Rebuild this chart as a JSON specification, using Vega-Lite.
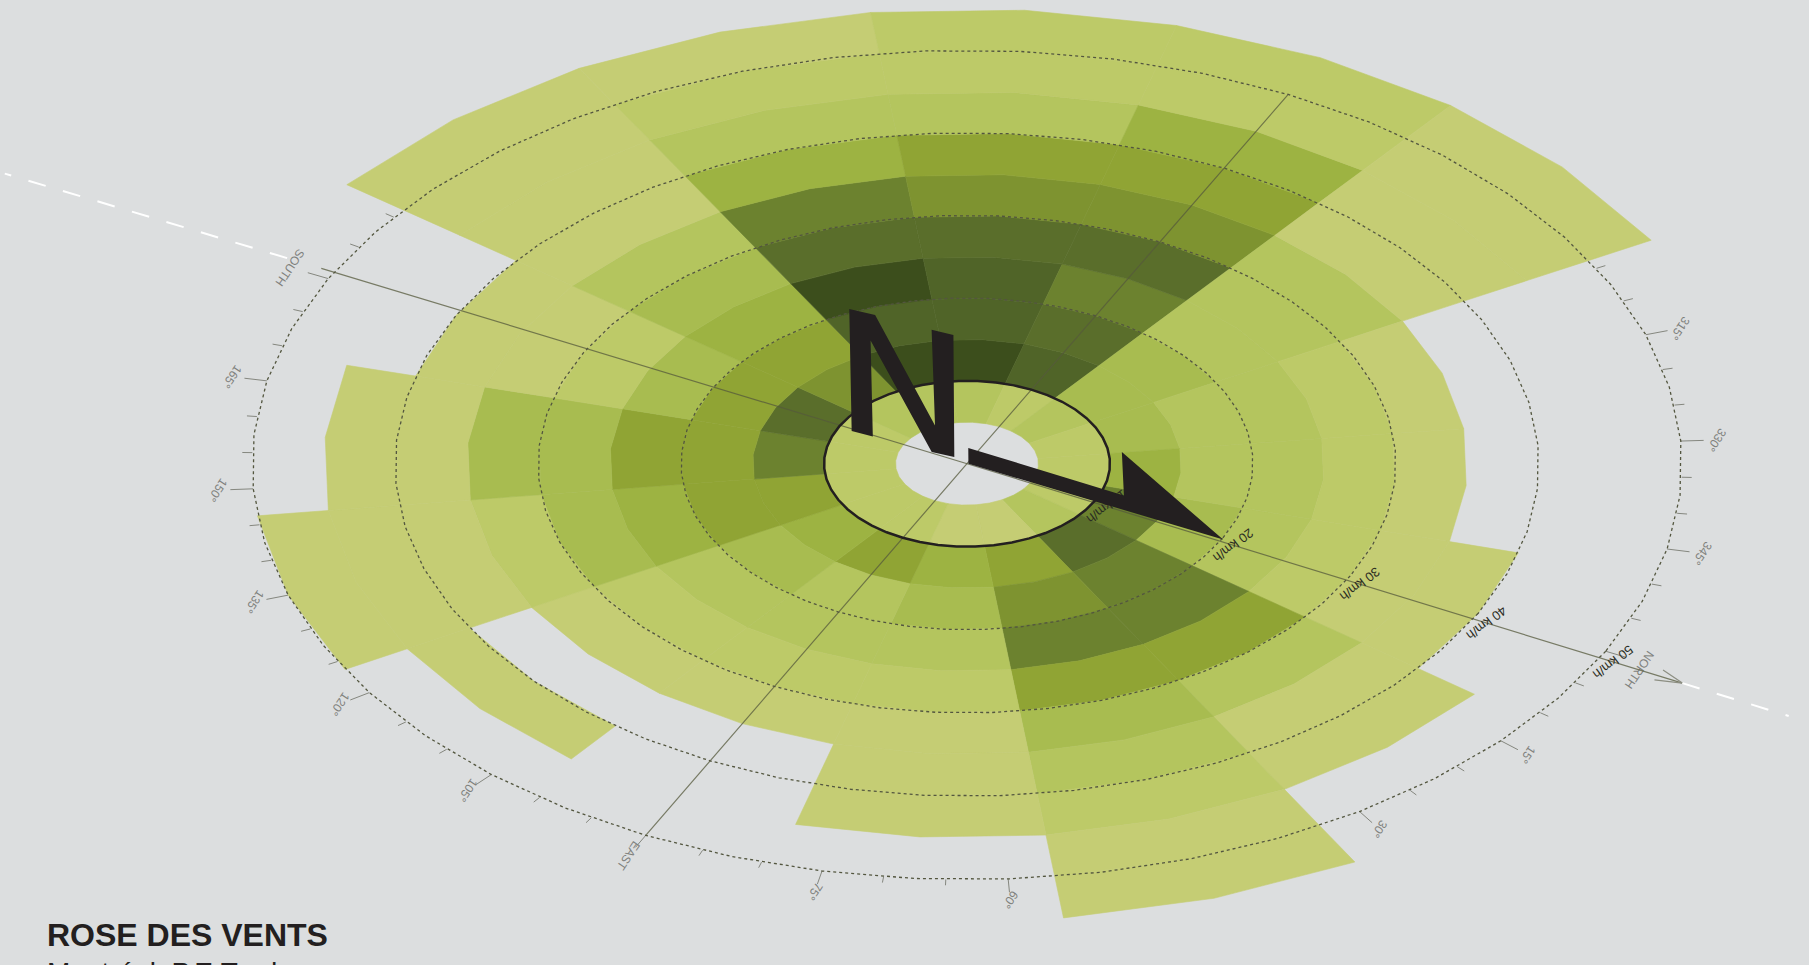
{"$schema":"https://vega.github.io/schema/vega-lite/v6.json","width":1809,"height":965,"padding":0,"autosize":{"type":"none"},"background":"#DCDEDF","config":{"view":{"stroke":null},"font":"Liberation Sans"},
"title":{"text":"ROSE DES VENTS","subtitle":"Montréal, P.E.Trudeau","anchor":"start","frame":"group","orient":"top","dx":47,"dy":993,"font":"Liberation Sans","fontSize":32,"fontWeight":"bold","color":"#231F20","subtitleFont":"Liberation Sans","subtitleFontSize":28,"subtitleColor":"#231F20","subtitlePadding":7},
"projection":{"type":"orthographic","rotate":[63.3,-35.45,0],"scale":163866,"translate":[967,133952.5]},
"layer":[
{"data":{"values":[
{"type":"Feature","properties":{"deg":0},"geometry":{"type":"LineString","coordinates":[[0,89.75],[0,89.742]]}},
{"type":"Feature","properties":{"deg":5},"geometry":{"type":"LineString","coordinates":[[-5,89.75],[-5,89.7465]]}},
{"type":"Feature","properties":{"deg":10},"geometry":{"type":"LineString","coordinates":[[-10,89.75],[-10,89.7465]]}},
{"type":"Feature","properties":{"deg":15},"geometry":{"type":"LineString","coordinates":[[-15,89.75],[-15,89.742]]}},
{"type":"Feature","properties":{"deg":20},"geometry":{"type":"LineString","coordinates":[[-20,89.75],[-20,89.7465]]}},
{"type":"Feature","properties":{"deg":25},"geometry":{"type":"LineString","coordinates":[[-25,89.75],[-25,89.7465]]}},
{"type":"Feature","properties":{"deg":30},"geometry":{"type":"LineString","coordinates":[[-30,89.75],[-30,89.742]]}},
{"type":"Feature","properties":{"deg":60},"geometry":{"type":"LineString","coordinates":[[-60,89.75],[-60,89.742]]}},
{"type":"Feature","properties":{"deg":65},"geometry":{"type":"LineString","coordinates":[[-65,89.75],[-65,89.7465]]}},
{"type":"Feature","properties":{"deg":70},"geometry":{"type":"LineString","coordinates":[[-70,89.75],[-70,89.7465]]}},
{"type":"Feature","properties":{"deg":75},"geometry":{"type":"LineString","coordinates":[[-75,89.75],[-75,89.742]]}},
{"type":"Feature","properties":{"deg":80},"geometry":{"type":"LineString","coordinates":[[-80,89.75],[-80,89.7465]]}},
{"type":"Feature","properties":{"deg":85},"geometry":{"type":"LineString","coordinates":[[-85,89.75],[-85,89.7465]]}},
{"type":"Feature","properties":{"deg":90},"geometry":{"type":"LineString","coordinates":[[-90,89.75],[-90,89.742]]}},
{"type":"Feature","properties":{"deg":95},"geometry":{"type":"LineString","coordinates":[[-95,89.75],[-95,89.7465]]}},
{"type":"Feature","properties":{"deg":100},"geometry":{"type":"LineString","coordinates":[[-100,89.75],[-100,89.7465]]}},
{"type":"Feature","properties":{"deg":105},"geometry":{"type":"LineString","coordinates":[[-105,89.75],[-105,89.742]]}},
{"type":"Feature","properties":{"deg":110},"geometry":{"type":"LineString","coordinates":[[-110,89.75],[-110,89.7465]]}},
{"type":"Feature","properties":{"deg":115},"geometry":{"type":"LineString","coordinates":[[-115,89.75],[-115,89.7465]]}},
{"type":"Feature","properties":{"deg":120},"geometry":{"type":"LineString","coordinates":[[-120,89.75],[-120,89.742]]}},
{"type":"Feature","properties":{"deg":125},"geometry":{"type":"LineString","coordinates":[[-125,89.75],[-125,89.7465]]}},
{"type":"Feature","properties":{"deg":130},"geometry":{"type":"LineString","coordinates":[[-130,89.75],[-130,89.7465]]}},
{"type":"Feature","properties":{"deg":135},"geometry":{"type":"LineString","coordinates":[[-135,89.75],[-135,89.742]]}},
{"type":"Feature","properties":{"deg":140},"geometry":{"type":"LineString","coordinates":[[-140,89.75],[-140,89.7465]]}},
{"type":"Feature","properties":{"deg":145},"geometry":{"type":"LineString","coordinates":[[-145,89.75],[-145,89.7465]]}},
{"type":"Feature","properties":{"deg":150},"geometry":{"type":"LineString","coordinates":[[-150,89.75],[-150,89.742]]}},
{"type":"Feature","properties":{"deg":155},"geometry":{"type":"LineString","coordinates":[[-155,89.75],[-155,89.7465]]}},
{"type":"Feature","properties":{"deg":160},"geometry":{"type":"LineString","coordinates":[[-160,89.75],[-160,89.7465]]}},
{"type":"Feature","properties":{"deg":165},"geometry":{"type":"LineString","coordinates":[[-165,89.75],[-165,89.742]]}},
{"type":"Feature","properties":{"deg":170},"geometry":{"type":"LineString","coordinates":[[-170,89.75],[-170,89.7465]]}},
{"type":"Feature","properties":{"deg":175},"geometry":{"type":"LineString","coordinates":[[-175,89.75],[-175,89.7465]]}},
{"type":"Feature","properties":{"deg":180},"geometry":{"type":"LineString","coordinates":[[-180,89.75],[-180,89.742]]}},
{"type":"Feature","properties":{"deg":185},"geometry":{"type":"LineString","coordinates":[[-185,89.75],[-185,89.7465]]}},
{"type":"Feature","properties":{"deg":190},"geometry":{"type":"LineString","coordinates":[[-190,89.75],[-190,89.7465]]}},
{"type":"Feature","properties":{"deg":305},"geometry":{"type":"LineString","coordinates":[[-305,89.75],[-305,89.7465]]}},
{"type":"Feature","properties":{"deg":310},"geometry":{"type":"LineString","coordinates":[[-310,89.75],[-310,89.7465]]}},
{"type":"Feature","properties":{"deg":315},"geometry":{"type":"LineString","coordinates":[[-315,89.75],[-315,89.742]]}},
{"type":"Feature","properties":{"deg":320},"geometry":{"type":"LineString","coordinates":[[-320,89.75],[-320,89.7465]]}},
{"type":"Feature","properties":{"deg":325},"geometry":{"type":"LineString","coordinates":[[-325,89.75],[-325,89.7465]]}},
{"type":"Feature","properties":{"deg":330},"geometry":{"type":"LineString","coordinates":[[-330,89.75],[-330,89.742]]}},
{"type":"Feature","properties":{"deg":335},"geometry":{"type":"LineString","coordinates":[[-335,89.75],[-335,89.7465]]}},
{"type":"Feature","properties":{"deg":340},"geometry":{"type":"LineString","coordinates":[[-340,89.75],[-340,89.7465]]}},
{"type":"Feature","properties":{"deg":345},"geometry":{"type":"LineString","coordinates":[[-345,89.75],[-345,89.742]]}},
{"type":"Feature","properties":{"deg":350},"geometry":{"type":"LineString","coordinates":[[-350,89.75],[-350,89.7465]]}},
{"type":"Feature","properties":{"deg":355},"geometry":{"type":"LineString","coordinates":[[-355,89.75],[-355,89.7465]]}}
]},"mark":{"type":"geoshape","filled":false,"stroke":"#85877f","strokeWidth":1}},
{"data":{"values":[
{"label":"15°","lon":-15,"lat":89.7375},{"label":"30°","lon":-30,"lat":89.7375},{"label":"60°","lon":-60,"lat":89.7375},{"label":"75°","lon":-75,"lat":89.7375},{"label":"EAST","lon":-90,"lat":89.7365},{"label":"105°","lon":-105,"lat":89.7375},{"label":"120°","lon":-120,"lat":89.7375},{"label":"135°","lon":-135,"lat":89.7375},{"label":"150°","lon":-150,"lat":89.7375},{"label":"165°","lon":-165,"lat":89.7375},{"label":"SOUTH","lon":-180,"lat":89.735},{"label":"315°","lon":-315,"lat":89.7375},{"label":"330°","lon":-330,"lat":89.7375},{"label":"345°","lon":-345,"lat":89.7375},{"label":"NORTH","lon":-1,"lat":89.7345}
]},"mark":{"type":"text","angle":124,"font":"Liberation Sans","fontSize":12,"color":"#7f817d","align":"center","baseline":"middle"},"encoding":{"longitude":{"field":"lon","type":"quantitative"},"latitude":{"field":"lat","type":"quantitative"},"text":{"field":"label","type":"nominal"}}},
{"data":{"values":[
{"type":"Feature","properties":{"dir":0,"low":5,"high":10,"freq":2},"geometry":{"type":"Polygon","coordinates":[[[-11.25,89.975],[0,89.975],[11.25,89.975],[11.25,89.95],[0,89.95],[-11.25,89.95],[-11.25,89.975]]]}},
{"type":"Feature","properties":{"dir":0,"low":10,"high":15,"freq":8},"geometry":{"type":"Polygon","coordinates":[[[-11.25,89.95],[0,89.95],[11.25,89.95],[11.25,89.925],[0,89.925],[-11.25,89.925],[-11.25,89.95]]]}},
{"type":"Feature","properties":{"dir":0,"low":15,"high":20,"freq":4},"geometry":{"type":"Polygon","coordinates":[[[-11.25,89.925],[0,89.925],[11.25,89.925],[11.25,89.9],[0,89.9],[-11.25,89.9],[-11.25,89.925]]]}},
{"type":"Feature","properties":{"dir":0,"low":20,"high":25,"freq":3},"geometry":{"type":"Polygon","coordinates":[[[-11.25,89.9],[0,89.9],[11.25,89.9],[11.25,89.875],[0,89.875],[-11.25,89.875],[-11.25,89.9]]]}},
{"type":"Feature","properties":{"dir":0,"low":25,"high":30,"freq":2},"geometry":{"type":"Polygon","coordinates":[[[-11.25,89.875],[0,89.875],[11.25,89.875],[11.25,89.85],[0,89.85],[-11.25,89.85],[-11.25,89.875]]]}},
{"type":"Feature","properties":{"dir":0,"low":30,"high":35,"freq":1},"geometry":{"type":"Polygon","coordinates":[[[-11.25,89.85],[0,89.85],[11.25,89.85],[11.25,89.825],[0,89.825],[-11.25,89.825],[-11.25,89.85]]]}},
{"type":"Feature","properties":{"dir":0,"low":35,"high":40,"freq":1},"geometry":{"type":"Polygon","coordinates":[[[-11.25,89.825],[0,89.825],[11.25,89.825],[11.25,89.8],[0,89.8],[-11.25,89.8],[-11.25,89.825]]]}},
{"type":"Feature","properties":{"dir":22.5,"low":5,"high":10,"freq":3},"geometry":{"type":"Polygon","coordinates":[[[-33.75,89.975],[-22.5,89.975],[-11.25,89.975],[-11.25,89.95],[-22.5,89.95],[-33.75,89.95],[-33.75,89.975]]]}},
{"type":"Feature","properties":{"dir":22.5,"low":10,"high":15,"freq":9},"geometry":{"type":"Polygon","coordinates":[[[-33.75,89.95],[-22.5,89.95],[-11.25,89.95],[-11.25,89.925],[-22.5,89.925],[-33.75,89.925],[-33.75,89.95]]]}},
{"type":"Feature","properties":{"dir":22.5,"low":15,"high":20,"freq":8},"geometry":{"type":"Polygon","coordinates":[[[-33.75,89.925],[-22.5,89.925],[-11.25,89.925],[-11.25,89.9],[-22.5,89.9],[-33.75,89.9],[-33.75,89.925]]]}},
{"type":"Feature","properties":{"dir":22.5,"low":20,"high":25,"freq":8},"geometry":{"type":"Polygon","coordinates":[[[-33.75,89.9],[-22.5,89.9],[-11.25,89.9],[-11.25,89.875],[-22.5,89.875],[-33.75,89.875],[-33.75,89.9]]]}},
{"type":"Feature","properties":{"dir":22.5,"low":25,"high":30,"freq":6},"geometry":{"type":"Polygon","coordinates":[[[-33.75,89.875],[-22.5,89.875],[-11.25,89.875],[-11.25,89.85],[-22.5,89.85],[-33.75,89.85],[-33.75,89.875]]]}},
{"type":"Feature","properties":{"dir":22.5,"low":30,"high":35,"freq":3},"geometry":{"type":"Polygon","coordinates":[[[-33.75,89.85],[-22.5,89.85],[-11.25,89.85],[-11.25,89.825],[-22.5,89.825],[-33.75,89.825],[-33.75,89.85]]]}},
{"type":"Feature","properties":{"dir":22.5,"low":35,"high":40,"freq":1},"geometry":{"type":"Polygon","coordinates":[[[-33.75,89.825],[-22.5,89.825],[-11.25,89.825],[-11.25,89.8],[-22.5,89.8],[-33.75,89.8],[-33.75,89.825]]]}},
{"type":"Feature","properties":{"dir":22.5,"low":40,"high":45,"freq":1},"geometry":{"type":"Polygon","coordinates":[[[-33.75,89.8],[-22.5,89.8],[-11.25,89.8],[-11.25,89.775],[-22.5,89.775],[-33.75,89.775],[-33.75,89.8]]]}},
{"type":"Feature","properties":{"dir":45,"low":5,"high":10,"freq":1},"geometry":{"type":"Polygon","coordinates":[[[-56.25,89.975],[-45,89.975],[-33.75,89.975],[-33.75,89.95],[-45,89.95],[-56.25,89.95],[-56.25,89.975]]]}},
{"type":"Feature","properties":{"dir":45,"low":10,"high":15,"freq":6},"geometry":{"type":"Polygon","coordinates":[[[-56.25,89.95],[-45,89.95],[-33.75,89.95],[-33.75,89.925],[-45,89.925],[-56.25,89.925],[-56.25,89.95]]]}},
{"type":"Feature","properties":{"dir":45,"low":15,"high":20,"freq":7},"geometry":{"type":"Polygon","coordinates":[[[-56.25,89.925],[-45,89.925],[-33.75,89.925],[-33.75,89.9],[-45,89.9],[-56.25,89.9],[-56.25,89.925]]]}},
{"type":"Feature","properties":{"dir":45,"low":20,"high":25,"freq":8},"geometry":{"type":"Polygon","coordinates":[[[-56.25,89.9],[-45,89.9],[-33.75,89.9],[-33.75,89.875],[-45,89.875],[-56.25,89.875],[-56.25,89.9]]]}},
{"type":"Feature","properties":{"dir":45,"low":25,"high":30,"freq":6},"geometry":{"type":"Polygon","coordinates":[[[-56.25,89.875],[-45,89.875],[-33.75,89.875],[-33.75,89.85],[-45,89.85],[-56.25,89.85],[-56.25,89.875]]]}},
{"type":"Feature","properties":{"dir":45,"low":30,"high":35,"freq":4},"geometry":{"type":"Polygon","coordinates":[[[-56.25,89.85],[-45,89.85],[-33.75,89.85],[-33.75,89.825],[-45,89.825],[-56.25,89.825],[-56.25,89.85]]]}},
{"type":"Feature","properties":{"dir":45,"low":35,"high":40,"freq":3},"geometry":{"type":"Polygon","coordinates":[[[-56.25,89.825],[-45,89.825],[-33.75,89.825],[-33.75,89.8],[-45,89.8],[-56.25,89.8],[-56.25,89.825]]]}},
{"type":"Feature","properties":{"dir":45,"low":40,"high":45,"freq":2},"geometry":{"type":"Polygon","coordinates":[[[-56.25,89.8],[-45,89.8],[-33.75,89.8],[-33.75,89.775],[-45,89.775],[-56.25,89.775],[-56.25,89.8]]]}},
{"type":"Feature","properties":{"dir":45,"low":45,"high":50,"freq":1},"geometry":{"type":"Polygon","coordinates":[[[-56.25,89.775],[-45,89.775],[-33.75,89.775],[-33.75,89.75],[-45,89.75],[-56.25,89.75],[-56.25,89.775]]]}},
{"type":"Feature","properties":{"dir":45,"low":50,"high":55,"freq":1},"geometry":{"type":"Polygon","coordinates":[[[-56.25,89.75],[-45,89.75],[-33.75,89.75],[-33.75,89.725],[-45,89.725],[-56.25,89.725],[-56.25,89.75]]]}},
{"type":"Feature","properties":{"dir":67.5,"low":5,"high":10,"freq":1},"geometry":{"type":"Polygon","coordinates":[[[-78.75,89.975],[-67.5,89.975],[-56.25,89.975],[-56.25,89.95],[-67.5,89.95],[-78.75,89.95],[-78.75,89.975]]]}},
{"type":"Feature","properties":{"dir":67.5,"low":10,"high":15,"freq":5},"geometry":{"type":"Polygon","coordinates":[[[-78.75,89.95],[-67.5,89.95],[-56.25,89.95],[-56.25,89.925],[-67.5,89.925],[-78.75,89.925],[-78.75,89.95]]]}},
{"type":"Feature","properties":{"dir":67.5,"low":15,"high":20,"freq":4},"geometry":{"type":"Polygon","coordinates":[[[-78.75,89.925],[-67.5,89.925],[-56.25,89.925],[-56.25,89.9],[-67.5,89.9],[-78.75,89.9],[-78.75,89.925]]]}},
{"type":"Feature","properties":{"dir":67.5,"low":20,"high":25,"freq":3},"geometry":{"type":"Polygon","coordinates":[[[-78.75,89.9],[-67.5,89.9],[-56.25,89.9],[-56.25,89.875],[-67.5,89.875],[-78.75,89.875],[-78.75,89.9]]]}},
{"type":"Feature","properties":{"dir":67.5,"low":25,"high":30,"freq":2},"geometry":{"type":"Polygon","coordinates":[[[-78.75,89.875],[-67.5,89.875],[-56.25,89.875],[-56.25,89.85],[-67.5,89.85],[-78.75,89.85],[-78.75,89.875]]]}},
{"type":"Feature","properties":{"dir":67.5,"low":30,"high":35,"freq":1},"geometry":{"type":"Polygon","coordinates":[[[-78.75,89.85],[-67.5,89.85],[-56.25,89.85],[-56.25,89.825],[-67.5,89.825],[-78.75,89.825],[-78.75,89.85]]]}},
{"type":"Feature","properties":{"dir":67.5,"low":35,"high":40,"freq":1},"geometry":{"type":"Polygon","coordinates":[[[-78.75,89.825],[-67.5,89.825],[-56.25,89.825],[-56.25,89.8],[-67.5,89.8],[-78.75,89.8],[-78.75,89.825]]]}},
{"type":"Feature","properties":{"dir":67.5,"low":40,"high":45,"freq":1},"geometry":{"type":"Polygon","coordinates":[[[-78.75,89.8],[-67.5,89.8],[-56.25,89.8],[-56.25,89.775],[-67.5,89.775],[-78.75,89.775],[-78.75,89.8]]]}},
{"type":"Feature","properties":{"dir":90,"low":5,"high":10,"freq":2},"geometry":{"type":"Polygon","coordinates":[[[-101.25,89.975],[-90,89.975],[-78.75,89.975],[-78.75,89.95],[-90,89.95],[-101.25,89.95],[-101.25,89.975]]]}},
{"type":"Feature","properties":{"dir":90,"low":10,"high":15,"freq":6},"geometry":{"type":"Polygon","coordinates":[[[-101.25,89.95],[-90,89.95],[-78.75,89.95],[-78.75,89.925],[-90,89.925],[-101.25,89.925],[-101.25,89.95]]]}},
{"type":"Feature","properties":{"dir":90,"low":15,"high":20,"freq":3},"geometry":{"type":"Polygon","coordinates":[[[-101.25,89.925],[-90,89.925],[-78.75,89.925],[-78.75,89.9],[-90,89.9],[-101.25,89.9],[-101.25,89.925]]]}},
{"type":"Feature","properties":{"dir":90,"low":20,"high":25,"freq":3},"geometry":{"type":"Polygon","coordinates":[[[-101.25,89.9],[-90,89.9],[-78.75,89.9],[-78.75,89.875],[-90,89.875],[-101.25,89.875],[-101.25,89.9]]]}},
{"type":"Feature","properties":{"dir":90,"low":25,"high":30,"freq":2},"geometry":{"type":"Polygon","coordinates":[[[-101.25,89.875],[-90,89.875],[-78.75,89.875],[-78.75,89.85],[-90,89.85],[-101.25,89.85],[-101.25,89.875]]]}},
{"type":"Feature","properties":{"dir":90,"low":30,"high":35,"freq":1},"geometry":{"type":"Polygon","coordinates":[[[-101.25,89.85],[-90,89.85],[-78.75,89.85],[-78.75,89.825],[-90,89.825],[-101.25,89.825],[-101.25,89.85]]]}},
{"type":"Feature","properties":{"dir":112.5,"low":5,"high":10,"freq":2},"geometry":{"type":"Polygon","coordinates":[[[-123.75,89.975],[-112.5,89.975],[-101.25,89.975],[-101.25,89.95],[-112.5,89.95],[-123.75,89.95],[-123.75,89.975]]]}},
{"type":"Feature","properties":{"dir":112.5,"low":10,"high":15,"freq":5},"geometry":{"type":"Polygon","coordinates":[[[-123.75,89.95],[-112.5,89.95],[-101.25,89.95],[-101.25,89.925],[-112.5,89.925],[-123.75,89.925],[-123.75,89.95]]]}},
{"type":"Feature","properties":{"dir":112.5,"low":15,"high":20,"freq":4},"geometry":{"type":"Polygon","coordinates":[[[-123.75,89.925],[-112.5,89.925],[-101.25,89.925],[-101.25,89.9],[-112.5,89.9],[-123.75,89.9],[-123.75,89.925]]]}},
{"type":"Feature","properties":{"dir":112.5,"low":20,"high":25,"freq":3},"geometry":{"type":"Polygon","coordinates":[[[-123.75,89.9],[-112.5,89.9],[-101.25,89.9],[-101.25,89.875],[-112.5,89.875],[-123.75,89.875],[-123.75,89.9]]]}},
{"type":"Feature","properties":{"dir":112.5,"low":25,"high":30,"freq":2},"geometry":{"type":"Polygon","coordinates":[[[-123.75,89.875],[-112.5,89.875],[-101.25,89.875],[-101.25,89.85],[-112.5,89.85],[-123.75,89.85],[-123.75,89.875]]]}},
{"type":"Feature","properties":{"dir":112.5,"low":30,"high":35,"freq":1},"geometry":{"type":"Polygon","coordinates":[[[-123.75,89.85],[-112.5,89.85],[-101.25,89.85],[-101.25,89.825],[-112.5,89.825],[-123.75,89.825],[-123.75,89.85]]]}},
{"type":"Feature","properties":{"dir":112.5,"low":40,"high":45,"freq":1},"geometry":{"type":"Polygon","coordinates":[[[-123.75,89.8],[-112.5,89.8],[-101.25,89.8],[-101.25,89.775],[-112.5,89.775],[-123.75,89.775],[-123.75,89.8]]]}},
{"type":"Feature","properties":{"dir":135,"low":5,"high":10,"freq":2},"geometry":{"type":"Polygon","coordinates":[[[-146.25,89.975],[-135,89.975],[-123.75,89.975],[-123.75,89.95],[-135,89.95],[-146.25,89.95],[-146.25,89.975]]]}},
{"type":"Feature","properties":{"dir":135,"low":10,"high":15,"freq":6},"geometry":{"type":"Polygon","coordinates":[[[-146.25,89.95],[-135,89.95],[-123.75,89.95],[-123.75,89.925],[-135,89.925],[-146.25,89.925],[-146.25,89.95]]]}},
{"type":"Feature","properties":{"dir":135,"low":15,"high":20,"freq":6},"geometry":{"type":"Polygon","coordinates":[[[-146.25,89.925],[-135,89.925],[-123.75,89.925],[-123.75,89.9],[-135,89.9],[-146.25,89.9],[-146.25,89.925]]]}},
{"type":"Feature","properties":{"dir":135,"low":20,"high":25,"freq":5},"geometry":{"type":"Polygon","coordinates":[[[-146.25,89.9],[-135,89.9],[-123.75,89.9],[-123.75,89.875],[-135,89.875],[-146.25,89.875],[-146.25,89.9]]]}},
{"type":"Feature","properties":{"dir":135,"low":25,"high":30,"freq":4},"geometry":{"type":"Polygon","coordinates":[[[-146.25,89.875],[-135,89.875],[-123.75,89.875],[-123.75,89.85],[-135,89.85],[-146.25,89.85],[-146.25,89.875]]]}},
{"type":"Feature","properties":{"dir":135,"low":30,"high":35,"freq":2},"geometry":{"type":"Polygon","coordinates":[[[-146.25,89.85],[-135,89.85],[-123.75,89.85],[-123.75,89.825],[-135,89.825],[-146.25,89.825],[-146.25,89.85]]]}},
{"type":"Feature","properties":{"dir":135,"low":35,"high":40,"freq":1},"geometry":{"type":"Polygon","coordinates":[[[-146.25,89.825],[-135,89.825],[-123.75,89.825],[-123.75,89.8],[-135,89.8],[-146.25,89.8],[-146.25,89.825]]]}},
{"type":"Feature","properties":{"dir":135,"low":40,"high":45,"freq":1},"geometry":{"type":"Polygon","coordinates":[[[-146.25,89.8],[-135,89.8],[-123.75,89.8],[-123.75,89.775],[-135,89.775],[-146.25,89.775],[-146.25,89.8]]]}},
{"type":"Feature","properties":{"dir":135,"low":45,"high":50,"freq":1},"geometry":{"type":"Polygon","coordinates":[[[-146.25,89.775],[-135,89.775],[-123.75,89.775],[-123.75,89.75],[-135,89.75],[-146.25,89.75],[-146.25,89.775]]]}},
{"type":"Feature","properties":{"dir":157.5,"low":5,"high":10,"freq":2},"geometry":{"type":"Polygon","coordinates":[[[-168.75,89.975],[-157.5,89.975],[-146.25,89.975],[-146.25,89.95],[-157.5,89.95],[-168.75,89.95],[-168.75,89.975]]]}},
{"type":"Feature","properties":{"dir":157.5,"low":10,"high":15,"freq":8},"geometry":{"type":"Polygon","coordinates":[[[-168.75,89.95],[-157.5,89.95],[-146.25,89.95],[-146.25,89.925],[-157.5,89.925],[-168.75,89.925],[-168.75,89.95]]]}},
{"type":"Feature","properties":{"dir":157.5,"low":15,"high":20,"freq":6},"geometry":{"type":"Polygon","coordinates":[[[-168.75,89.925],[-157.5,89.925],[-146.25,89.925],[-146.25,89.9],[-157.5,89.9],[-168.75,89.9],[-168.75,89.925]]]}},
{"type":"Feature","properties":{"dir":157.5,"low":20,"high":25,"freq":6},"geometry":{"type":"Polygon","coordinates":[[[-168.75,89.9],[-157.5,89.9],[-146.25,89.9],[-146.25,89.875],[-157.5,89.875],[-168.75,89.875],[-168.75,89.9]]]}},
{"type":"Feature","properties":{"dir":157.5,"low":25,"high":30,"freq":4},"geometry":{"type":"Polygon","coordinates":[[[-168.75,89.875],[-157.5,89.875],[-146.25,89.875],[-146.25,89.85],[-157.5,89.85],[-168.75,89.85],[-168.75,89.875]]]}},
{"type":"Feature","properties":{"dir":157.5,"low":30,"high":35,"freq":4},"geometry":{"type":"Polygon","coordinates":[[[-168.75,89.85],[-157.5,89.85],[-146.25,89.85],[-146.25,89.825],[-157.5,89.825],[-168.75,89.825],[-168.75,89.85]]]}},
{"type":"Feature","properties":{"dir":157.5,"low":35,"high":40,"freq":1},"geometry":{"type":"Polygon","coordinates":[[[-168.75,89.825],[-157.5,89.825],[-146.25,89.825],[-146.25,89.8],[-157.5,89.8],[-168.75,89.8],[-168.75,89.825]]]}},
{"type":"Feature","properties":{"dir":157.5,"low":40,"high":45,"freq":1},"geometry":{"type":"Polygon","coordinates":[[[-168.75,89.8],[-157.5,89.8],[-146.25,89.8],[-146.25,89.775],[-157.5,89.775],[-168.75,89.775],[-168.75,89.8]]]}},
{"type":"Feature","properties":{"dir":180,"low":5,"high":10,"freq":2},"geometry":{"type":"Polygon","coordinates":[[[-191.25,89.975],[-180,89.975],[-168.75,89.975],[-168.75,89.95],[-180,89.95],[-191.25,89.95],[-191.25,89.975]]]}},
{"type":"Feature","properties":{"dir":180,"low":10,"high":15,"freq":9},"geometry":{"type":"Polygon","coordinates":[[[-191.25,89.95],[-180,89.95],[-168.75,89.95],[-168.75,89.925],[-180,89.925],[-191.25,89.925],[-191.25,89.95]]]}},
{"type":"Feature","properties":{"dir":180,"low":15,"high":20,"freq":6},"geometry":{"type":"Polygon","coordinates":[[[-191.25,89.925],[-180,89.925],[-168.75,89.925],[-168.75,89.9],[-180,89.9],[-191.25,89.9],[-191.25,89.925]]]}},
{"type":"Feature","properties":{"dir":180,"low":20,"high":25,"freq":4},"geometry":{"type":"Polygon","coordinates":[[[-191.25,89.9],[-180,89.9],[-168.75,89.9],[-168.75,89.875],[-180,89.875],[-191.25,89.875],[-191.25,89.9]]]}},
{"type":"Feature","properties":{"dir":180,"low":25,"high":30,"freq":2},"geometry":{"type":"Polygon","coordinates":[[[-191.25,89.875],[-180,89.875],[-168.75,89.875],[-168.75,89.85],[-180,89.85],[-191.25,89.85],[-191.25,89.875]]]}},
{"type":"Feature","properties":{"dir":180,"low":30,"high":35,"freq":1},"geometry":{"type":"Polygon","coordinates":[[[-191.25,89.85],[-180,89.85],[-168.75,89.85],[-168.75,89.825],[-180,89.825],[-191.25,89.825],[-191.25,89.85]]]}},
{"type":"Feature","properties":{"dir":180,"low":35,"high":40,"freq":1},"geometry":{"type":"Polygon","coordinates":[[[-191.25,89.825],[-180,89.825],[-168.75,89.825],[-168.75,89.8],[-180,89.8],[-191.25,89.8],[-191.25,89.825]]]}},
{"type":"Feature","properties":{"dir":202.5,"low":5,"high":10,"freq":3},"geometry":{"type":"Polygon","coordinates":[[[-213.75,89.975],[-202.5,89.975],[-191.25,89.975],[-191.25,89.95],[-202.5,89.95],[-213.75,89.95],[-213.75,89.975]]]}},
{"type":"Feature","properties":{"dir":202.5,"low":10,"high":15,"freq":7},"geometry":{"type":"Polygon","coordinates":[[[-213.75,89.95],[-202.5,89.95],[-191.25,89.95],[-191.25,89.925],[-202.5,89.925],[-213.75,89.925],[-213.75,89.95]]]}},
{"type":"Feature","properties":{"dir":202.5,"low":15,"high":20,"freq":6},"geometry":{"type":"Polygon","coordinates":[[[-213.75,89.925],[-202.5,89.925],[-191.25,89.925],[-191.25,89.9],[-202.5,89.9],[-213.75,89.9],[-213.75,89.925]]]}},
{"type":"Feature","properties":{"dir":202.5,"low":20,"high":25,"freq":5},"geometry":{"type":"Polygon","coordinates":[[[-213.75,89.9],[-202.5,89.9],[-191.25,89.9],[-191.25,89.875],[-202.5,89.875],[-213.75,89.875],[-213.75,89.9]]]}},
{"type":"Feature","properties":{"dir":202.5,"low":25,"high":30,"freq":4},"geometry":{"type":"Polygon","coordinates":[[[-213.75,89.875],[-202.5,89.875],[-191.25,89.875],[-191.25,89.85],[-202.5,89.85],[-213.75,89.85],[-213.75,89.875]]]}},
{"type":"Feature","properties":{"dir":202.5,"low":30,"high":35,"freq":3},"geometry":{"type":"Polygon","coordinates":[[[-213.75,89.85],[-202.5,89.85],[-191.25,89.85],[-191.25,89.825],[-202.5,89.825],[-213.75,89.825],[-213.75,89.85]]]}},
{"type":"Feature","properties":{"dir":202.5,"low":35,"high":40,"freq":1},"geometry":{"type":"Polygon","coordinates":[[[-213.75,89.825],[-202.5,89.825],[-191.25,89.825],[-191.25,89.8],[-202.5,89.8],[-213.75,89.8],[-213.75,89.825]]]}},
{"type":"Feature","properties":{"dir":202.5,"low":40,"high":45,"freq":1},"geometry":{"type":"Polygon","coordinates":[[[-213.75,89.8],[-202.5,89.8],[-191.25,89.8],[-191.25,89.775],[-202.5,89.775],[-213.75,89.775],[-213.75,89.8]]]}},
{"type":"Feature","properties":{"dir":202.5,"low":45,"high":50,"freq":1},"geometry":{"type":"Polygon","coordinates":[[[-213.75,89.775],[-202.5,89.775],[-191.25,89.775],[-191.25,89.75],[-202.5,89.75],[-213.75,89.75],[-213.75,89.775]]]}},
{"type":"Feature","properties":{"dir":202.5,"low":50,"high":55,"freq":1},"geometry":{"type":"Polygon","coordinates":[[[-213.75,89.75],[-202.5,89.75],[-191.25,89.75],[-191.25,89.725],[-202.5,89.725],[-213.75,89.725],[-213.75,89.75]]]}},
{"type":"Feature","properties":{"dir":225,"low":5,"high":10,"freq":3},"geometry":{"type":"Polygon","coordinates":[[[-236.25,89.975],[-225,89.975],[-213.75,89.975],[-213.75,89.95],[-225,89.95],[-236.25,89.95],[-236.25,89.975]]]}},
{"type":"Feature","properties":{"dir":225,"low":10,"high":15,"freq":11},"geometry":{"type":"Polygon","coordinates":[[[-236.25,89.95],[-225,89.95],[-213.75,89.95],[-213.75,89.925],[-225,89.925],[-236.25,89.925],[-236.25,89.95]]]}},
{"type":"Feature","properties":{"dir":225,"low":15,"high":20,"freq":10},"geometry":{"type":"Polygon","coordinates":[[[-236.25,89.925],[-225,89.925],[-213.75,89.925],[-213.75,89.9],[-225,89.9],[-236.25,89.9],[-236.25,89.925]]]}},
{"type":"Feature","properties":{"dir":225,"low":20,"high":25,"freq":11},"geometry":{"type":"Polygon","coordinates":[[[-236.25,89.9],[-225,89.9],[-213.75,89.9],[-213.75,89.875],[-225,89.875],[-236.25,89.875],[-236.25,89.9]]]}},
{"type":"Feature","properties":{"dir":225,"low":25,"high":30,"freq":9},"geometry":{"type":"Polygon","coordinates":[[[-236.25,89.875],[-225,89.875],[-213.75,89.875],[-213.75,89.85],[-225,89.85],[-236.25,89.85],[-236.25,89.875]]]}},
{"type":"Feature","properties":{"dir":225,"low":30,"high":35,"freq":8},"geometry":{"type":"Polygon","coordinates":[[[-236.25,89.85],[-225,89.85],[-213.75,89.85],[-213.75,89.825],[-225,89.825],[-236.25,89.825],[-236.25,89.85]]]}},
{"type":"Feature","properties":{"dir":225,"low":35,"high":40,"freq":5},"geometry":{"type":"Polygon","coordinates":[[[-236.25,89.825],[-225,89.825],[-213.75,89.825],[-213.75,89.8],[-225,89.8],[-236.25,89.8],[-236.25,89.825]]]}},
{"type":"Feature","properties":{"dir":225,"low":40,"high":45,"freq":3},"geometry":{"type":"Polygon","coordinates":[[[-236.25,89.8],[-225,89.8],[-213.75,89.8],[-213.75,89.775],[-225,89.775],[-236.25,89.775],[-236.25,89.8]]]}},
{"type":"Feature","properties":{"dir":225,"low":45,"high":50,"freq":2},"geometry":{"type":"Polygon","coordinates":[[[-236.25,89.775],[-225,89.775],[-213.75,89.775],[-213.75,89.75],[-225,89.75],[-236.25,89.75],[-236.25,89.775]]]}},
{"type":"Feature","properties":{"dir":225,"low":50,"high":55,"freq":1},"geometry":{"type":"Polygon","coordinates":[[[-236.25,89.75],[-225,89.75],[-213.75,89.75],[-213.75,89.725],[-225,89.725],[-236.25,89.725],[-236.25,89.75]]]}},
{"type":"Feature","properties":{"dir":247.5,"low":5,"high":10,"freq":3},"geometry":{"type":"Polygon","coordinates":[[[-258.75,89.975],[-247.5,89.975],[-236.25,89.975],[-236.25,89.95],[-247.5,89.95],[-258.75,89.95],[-258.75,89.975]]]}},
{"type":"Feature","properties":{"dir":247.5,"low":10,"high":15,"freq":11},"geometry":{"type":"Polygon","coordinates":[[[-258.75,89.95],[-247.5,89.95],[-236.25,89.95],[-236.25,89.925],[-247.5,89.925],[-258.75,89.925],[-258.75,89.95]]]}},
{"type":"Feature","properties":{"dir":247.5,"low":15,"high":20,"freq":10},"geometry":{"type":"Polygon","coordinates":[[[-258.75,89.925],[-247.5,89.925],[-236.25,89.925],[-236.25,89.9],[-247.5,89.9],[-258.75,89.9],[-258.75,89.925]]]}},
{"type":"Feature","properties":{"dir":247.5,"low":20,"high":25,"freq":10},"geometry":{"type":"Polygon","coordinates":[[[-258.75,89.9],[-247.5,89.9],[-236.25,89.9],[-236.25,89.875],[-247.5,89.875],[-258.75,89.875],[-258.75,89.9]]]}},
{"type":"Feature","properties":{"dir":247.5,"low":25,"high":30,"freq":9},"geometry":{"type":"Polygon","coordinates":[[[-258.75,89.875],[-247.5,89.875],[-236.25,89.875],[-236.25,89.85],[-247.5,89.85],[-258.75,89.85],[-258.75,89.875]]]}},
{"type":"Feature","properties":{"dir":247.5,"low":30,"high":35,"freq":7},"geometry":{"type":"Polygon","coordinates":[[[-258.75,89.85],[-247.5,89.85],[-236.25,89.85],[-236.25,89.825],[-247.5,89.825],[-258.75,89.825],[-258.75,89.85]]]}},
{"type":"Feature","properties":{"dir":247.5,"low":35,"high":40,"freq":6},"geometry":{"type":"Polygon","coordinates":[[[-258.75,89.825],[-247.5,89.825],[-236.25,89.825],[-236.25,89.8],[-247.5,89.8],[-258.75,89.8],[-258.75,89.825]]]}},
{"type":"Feature","properties":{"dir":247.5,"low":40,"high":45,"freq":3},"geometry":{"type":"Polygon","coordinates":[[[-258.75,89.8],[-247.5,89.8],[-236.25,89.8],[-236.25,89.775],[-247.5,89.775],[-258.75,89.775],[-258.75,89.8]]]}},
{"type":"Feature","properties":{"dir":247.5,"low":45,"high":50,"freq":2},"geometry":{"type":"Polygon","coordinates":[[[-258.75,89.775],[-247.5,89.775],[-236.25,89.775],[-236.25,89.75],[-247.5,89.75],[-258.75,89.75],[-258.75,89.775]]]}},
{"type":"Feature","properties":{"dir":247.5,"low":50,"high":55,"freq":2},"geometry":{"type":"Polygon","coordinates":[[[-258.75,89.75],[-247.5,89.75],[-236.25,89.75],[-236.25,89.725],[-247.5,89.725],[-258.75,89.725],[-258.75,89.75]]]}},
{"type":"Feature","properties":{"dir":270,"low":5,"high":10,"freq":2},"geometry":{"type":"Polygon","coordinates":[[[-281.25,89.975],[-270,89.975],[-258.75,89.975],[-258.75,89.95],[-270,89.95],[-281.25,89.95],[-281.25,89.975]]]}},
{"type":"Feature","properties":{"dir":270,"low":10,"high":15,"freq":10},"geometry":{"type":"Polygon","coordinates":[[[-281.25,89.95],[-270,89.95],[-258.75,89.95],[-258.75,89.925],[-270,89.925],[-281.25,89.925],[-281.25,89.95]]]}},
{"type":"Feature","properties":{"dir":270,"low":15,"high":20,"freq":9},"geometry":{"type":"Polygon","coordinates":[[[-281.25,89.925],[-270,89.925],[-258.75,89.925],[-258.75,89.9],[-270,89.9],[-281.25,89.9],[-281.25,89.925]]]}},
{"type":"Feature","properties":{"dir":270,"low":20,"high":25,"freq":8},"geometry":{"type":"Polygon","coordinates":[[[-281.25,89.9],[-270,89.9],[-258.75,89.9],[-258.75,89.875],[-270,89.875],[-281.25,89.875],[-281.25,89.9]]]}},
{"type":"Feature","properties":{"dir":270,"low":25,"high":30,"freq":9},"geometry":{"type":"Polygon","coordinates":[[[-281.25,89.875],[-270,89.875],[-258.75,89.875],[-258.75,89.85],[-270,89.85],[-281.25,89.85],[-281.25,89.875]]]}},
{"type":"Feature","properties":{"dir":270,"low":30,"high":35,"freq":7},"geometry":{"type":"Polygon","coordinates":[[[-281.25,89.85],[-270,89.85],[-258.75,89.85],[-258.75,89.825],[-270,89.825],[-281.25,89.825],[-281.25,89.85]]]}},
{"type":"Feature","properties":{"dir":270,"low":35,"high":40,"freq":6},"geometry":{"type":"Polygon","coordinates":[[[-281.25,89.825],[-270,89.825],[-258.75,89.825],[-258.75,89.8],[-270,89.8],[-281.25,89.8],[-281.25,89.825]]]}},
{"type":"Feature","properties":{"dir":270,"low":40,"high":45,"freq":5},"geometry":{"type":"Polygon","coordinates":[[[-281.25,89.8],[-270,89.8],[-258.75,89.8],[-258.75,89.775],[-270,89.775],[-281.25,89.775],[-281.25,89.8]]]}},
{"type":"Feature","properties":{"dir":270,"low":45,"high":50,"freq":2},"geometry":{"type":"Polygon","coordinates":[[[-281.25,89.775],[-270,89.775],[-258.75,89.775],[-258.75,89.75],[-270,89.75],[-281.25,89.75],[-281.25,89.775]]]}},
{"type":"Feature","properties":{"dir":270,"low":50,"high":55,"freq":2},"geometry":{"type":"Polygon","coordinates":[[[-281.25,89.75],[-270,89.75],[-258.75,89.75],[-258.75,89.725],[-270,89.725],[-281.25,89.725],[-281.25,89.75]]]}},
{"type":"Feature","properties":{"dir":292.5,"low":5,"high":10,"freq":3},"geometry":{"type":"Polygon","coordinates":[[[-303.75,89.975],[-292.5,89.975],[-281.25,89.975],[-281.25,89.95],[-292.5,89.95],[-303.75,89.95],[-303.75,89.975]]]}},
{"type":"Feature","properties":{"dir":292.5,"low":10,"high":15,"freq":4},"geometry":{"type":"Polygon","coordinates":[[[-303.75,89.95],[-292.5,89.95],[-281.25,89.95],[-281.25,89.925],[-292.5,89.925],[-303.75,89.925],[-303.75,89.95]]]}},
{"type":"Feature","properties":{"dir":292.5,"low":15,"high":20,"freq":4},"geometry":{"type":"Polygon","coordinates":[[[-303.75,89.925],[-292.5,89.925],[-281.25,89.925],[-281.25,89.9],[-292.5,89.9],[-303.75,89.9],[-303.75,89.925]]]}},
{"type":"Feature","properties":{"dir":292.5,"low":20,"high":25,"freq":3},"geometry":{"type":"Polygon","coordinates":[[[-303.75,89.9],[-292.5,89.9],[-281.25,89.9],[-281.25,89.875],[-292.5,89.875],[-303.75,89.875],[-303.75,89.9]]]}},
{"type":"Feature","properties":{"dir":292.5,"low":25,"high":30,"freq":3},"geometry":{"type":"Polygon","coordinates":[[[-303.75,89.875],[-292.5,89.875],[-281.25,89.875],[-281.25,89.85],[-292.5,89.85],[-303.75,89.85],[-303.75,89.875]]]}},
{"type":"Feature","properties":{"dir":292.5,"low":30,"high":35,"freq":3},"geometry":{"type":"Polygon","coordinates":[[[-303.75,89.85],[-292.5,89.85],[-281.25,89.85],[-281.25,89.825],[-292.5,89.825],[-303.75,89.825],[-303.75,89.85]]]}},
{"type":"Feature","properties":{"dir":292.5,"low":35,"high":40,"freq":1},"geometry":{"type":"Polygon","coordinates":[[[-303.75,89.825],[-292.5,89.825],[-281.25,89.825],[-281.25,89.8],[-292.5,89.8],[-303.75,89.8],[-303.75,89.825]]]}},
{"type":"Feature","properties":{"dir":292.5,"low":40,"high":45,"freq":1},"geometry":{"type":"Polygon","coordinates":[[[-303.75,89.8],[-292.5,89.8],[-281.25,89.8],[-281.25,89.775],[-292.5,89.775],[-303.75,89.775],[-303.75,89.8]]]}},
{"type":"Feature","properties":{"dir":292.5,"low":45,"high":50,"freq":1},"geometry":{"type":"Polygon","coordinates":[[[-303.75,89.775],[-292.5,89.775],[-281.25,89.775],[-281.25,89.75],[-292.5,89.75],[-303.75,89.75],[-303.75,89.775]]]}},
{"type":"Feature","properties":{"dir":292.5,"low":50,"high":55,"freq":1},"geometry":{"type":"Polygon","coordinates":[[[-303.75,89.75],[-292.5,89.75],[-281.25,89.75],[-281.25,89.725],[-292.5,89.725],[-303.75,89.725],[-303.75,89.75]]]}},
{"type":"Feature","properties":{"dir":315,"low":5,"high":10,"freq":2},"geometry":{"type":"Polygon","coordinates":[[[-326.25,89.975],[-315,89.975],[-303.75,89.975],[-303.75,89.95],[-315,89.95],[-326.25,89.95],[-326.25,89.975]]]}},
{"type":"Feature","properties":{"dir":315,"low":10,"high":15,"freq":4},"geometry":{"type":"Polygon","coordinates":[[[-326.25,89.95],[-315,89.95],[-303.75,89.95],[-303.75,89.925],[-315,89.925],[-326.25,89.925],[-326.25,89.95]]]}},
{"type":"Feature","properties":{"dir":315,"low":15,"high":20,"freq":3},"geometry":{"type":"Polygon","coordinates":[[[-326.25,89.925],[-315,89.925],[-303.75,89.925],[-303.75,89.9],[-315,89.9],[-326.25,89.9],[-326.25,89.925]]]}},
{"type":"Feature","properties":{"dir":315,"low":20,"high":25,"freq":3},"geometry":{"type":"Polygon","coordinates":[[[-326.25,89.9],[-315,89.9],[-303.75,89.9],[-303.75,89.875],[-315,89.875],[-326.25,89.875],[-326.25,89.9]]]}},
{"type":"Feature","properties":{"dir":315,"low":25,"high":30,"freq":2},"geometry":{"type":"Polygon","coordinates":[[[-326.25,89.875],[-315,89.875],[-303.75,89.875],[-303.75,89.85],[-315,89.85],[-326.25,89.85],[-326.25,89.875]]]}},
{"type":"Feature","properties":{"dir":315,"low":30,"high":35,"freq":1},"geometry":{"type":"Polygon","coordinates":[[[-326.25,89.85],[-315,89.85],[-303.75,89.85],[-303.75,89.825],[-315,89.825],[-326.25,89.825],[-326.25,89.85]]]}},
{"type":"Feature","properties":{"dir":337.5,"low":5,"high":10,"freq":2},"geometry":{"type":"Polygon","coordinates":[[[-348.75,89.975],[-337.5,89.975],[-326.25,89.975],[-326.25,89.95],[-337.5,89.95],[-348.75,89.95],[-348.75,89.975]]]}},
{"type":"Feature","properties":{"dir":337.5,"low":10,"high":15,"freq":5},"geometry":{"type":"Polygon","coordinates":[[[-348.75,89.95],[-337.5,89.95],[-326.25,89.95],[-326.25,89.925],[-337.5,89.925],[-348.75,89.925],[-348.75,89.95]]]}},
{"type":"Feature","properties":{"dir":337.5,"low":15,"high":20,"freq":3},"geometry":{"type":"Polygon","coordinates":[[[-348.75,89.925],[-337.5,89.925],[-326.25,89.925],[-326.25,89.9],[-337.5,89.9],[-348.75,89.9],[-348.75,89.925]]]}},
{"type":"Feature","properties":{"dir":337.5,"low":20,"high":25,"freq":3},"geometry":{"type":"Polygon","coordinates":[[[-348.75,89.9],[-337.5,89.9],[-326.25,89.9],[-326.25,89.875],[-337.5,89.875],[-348.75,89.875],[-348.75,89.9]]]}},
{"type":"Feature","properties":{"dir":337.5,"low":25,"high":30,"freq":2},"geometry":{"type":"Polygon","coordinates":[[[-348.75,89.875],[-337.5,89.875],[-326.25,89.875],[-326.25,89.85],[-337.5,89.85],[-348.75,89.85],[-348.75,89.875]]]}},
{"type":"Feature","properties":{"dir":337.5,"low":30,"high":35,"freq":1},"geometry":{"type":"Polygon","coordinates":[[[-348.75,89.85],[-337.5,89.85],[-326.25,89.85],[-326.25,89.825],[-337.5,89.825],[-348.75,89.825],[-348.75,89.85]]]}}
]},"mark":{"type":"geoshape","strokeWidth":0.6},"encoding":{
"color":{"field":"properties.freq","type":"quantitative","legend":null,"scale":{"domain":[1,2,3,4,5,6,7,8,9,10,11],"range":["#C5CD74","#BDCA68","#B4C55E","#A8BC50","#9DB342","#90A434","#7E9330","#6C822F","#5A6E2B","#506428","#3C4E1C"]}},
"stroke":{"field":"properties.freq","type":"quantitative","legend":null,"scale":{"domain":[1,2,3,4,5,6,7,8,9,10,11],"range":["#C5CD74","#BDCA68","#B4C55E","#A8BC50","#9DB342","#90A434","#7E9330","#6C822F","#5A6E2B","#506428","#3C4E1C"]}}}},
{"data":{"values":[
{"type":"Feature","properties":{"line":"east-west"},"geometry":{"type":"LineString","coordinates":[[-90,89.75],[-270,89.75]]}},
{"type":"Feature","properties":{"line":"north-south"},"geometry":{"type":"LineString","coordinates":[[-181,89.745],[-1,89.7175]]}}
]},"mark":{"type":"geoshape","filled":false,"stroke":"#55593c","strokeOpacity":0.75,"strokeWidth":1.2}},
{"data":{"values":[
{"type":"Feature","properties":{"line":"north-head"},"geometry":{"type":"MultiLineString","coordinates":[[[-1,89.7175],[-0.2,89.7271]],[[-1,89.7175],[-1.6,89.727]]]}}
]},"mark":{"type":"geoshape","filled":false,"stroke":"#8c8e82","strokeWidth":1.2}},
{"data":{"values":[
{"type":"Feature","properties":{"line":"north"},"geometry":{"type":"LineString","coordinates":[[-1,89.7175],[-1,89.6755]]}},
{"type":"Feature","properties":{"line":"south"},"geometry":{"type":"LineString","coordinates":[[-181,89.7315],[-181,89.62]]}}
]},"mark":{"type":"geoshape","filled":false,"stroke":"#FFFFFF","strokeWidth":2,"strokeDash":[18,18]}},
{"data":{"values":[
{"type":"Feature","properties":{"speed":20},"geometry":{"type":"LineString","coordinates":[[0,89.9],[-7.5,89.9],[-15,89.9],[-22.5,89.9],[-30,89.9],[-37.5,89.9],[-45,89.9],[-52.5,89.9],[-60,89.9],[-67.5,89.9],[-75,89.9],[-82.5,89.9],[-90,89.9],[-97.5,89.9],[-105,89.9],[-112.5,89.9],[-120,89.9],[-127.5,89.9],[-135,89.9],[-142.5,89.9],[-150,89.9],[-157.5,89.9],[-165,89.9],[-172.5,89.9],[-180,89.9],[-187.5,89.9],[-195,89.9],[-202.5,89.9],[-210,89.9],[-217.5,89.9],[-225,89.9],[-232.5,89.9],[-240,89.9],[-247.5,89.9],[-255,89.9],[-262.5,89.9],[-270,89.9],[-277.5,89.9],[-285,89.9],[-292.5,89.9],[-300,89.9],[-307.5,89.9],[-315,89.9],[-322.5,89.9],[-330,89.9],[-337.5,89.9],[-345,89.9],[-352.5,89.9],[-360,89.9]]}},
{"type":"Feature","properties":{"speed":30},"geometry":{"type":"LineString","coordinates":[[0,89.85],[-7.5,89.85],[-15,89.85],[-22.5,89.85],[-30,89.85],[-37.5,89.85],[-45,89.85],[-52.5,89.85],[-60,89.85],[-67.5,89.85],[-75,89.85],[-82.5,89.85],[-90,89.85],[-97.5,89.85],[-105,89.85],[-112.5,89.85],[-120,89.85],[-127.5,89.85],[-135,89.85],[-142.5,89.85],[-150,89.85],[-157.5,89.85],[-165,89.85],[-172.5,89.85],[-180,89.85],[-187.5,89.85],[-195,89.85],[-202.5,89.85],[-210,89.85],[-217.5,89.85],[-225,89.85],[-232.5,89.85],[-240,89.85],[-247.5,89.85],[-255,89.85],[-262.5,89.85],[-270,89.85],[-277.5,89.85],[-285,89.85],[-292.5,89.85],[-300,89.85],[-307.5,89.85],[-315,89.85],[-322.5,89.85],[-330,89.85],[-337.5,89.85],[-345,89.85],[-352.5,89.85],[-360,89.85]]}},
{"type":"Feature","properties":{"speed":40},"geometry":{"type":"LineString","coordinates":[[0,89.8],[-7.5,89.8],[-15,89.8],[-22.5,89.8],[-30,89.8],[-37.5,89.8],[-45,89.8],[-52.5,89.8],[-60,89.8],[-67.5,89.8],[-75,89.8],[-82.5,89.8],[-90,89.8],[-97.5,89.8],[-105,89.8],[-112.5,89.8],[-120,89.8],[-127.5,89.8],[-135,89.8],[-142.5,89.8],[-150,89.8],[-157.5,89.8],[-165,89.8],[-172.5,89.8],[-180,89.8],[-187.5,89.8],[-195,89.8],[-202.5,89.8],[-210,89.8],[-217.5,89.8],[-225,89.8],[-232.5,89.8],[-240,89.8],[-247.5,89.8],[-255,89.8],[-262.5,89.8],[-270,89.8],[-277.5,89.8],[-285,89.8],[-292.5,89.8],[-300,89.8],[-307.5,89.8],[-315,89.8],[-322.5,89.8],[-330,89.8],[-337.5,89.8],[-345,89.8],[-352.5,89.8],[-360,89.8]]}},
{"type":"Feature","properties":{"speed":50},"geometry":{"type":"LineString","coordinates":[[0,89.75],[-7.5,89.75],[-15,89.75],[-22.5,89.75],[-30,89.75],[-37.5,89.75],[-45,89.75],[-52.5,89.75],[-60,89.75],[-67.5,89.75],[-75,89.75],[-82.5,89.75],[-90,89.75],[-97.5,89.75],[-105,89.75],[-112.5,89.75],[-120,89.75],[-127.5,89.75],[-135,89.75],[-142.5,89.75],[-150,89.75],[-157.5,89.75],[-165,89.75],[-172.5,89.75],[-180,89.75],[-187.5,89.75],[-195,89.75],[-202.5,89.75],[-210,89.75],[-217.5,89.75],[-225,89.75],[-232.5,89.75],[-240,89.75],[-247.5,89.75],[-255,89.75],[-262.5,89.75],[-270,89.75],[-277.5,89.75],[-285,89.75],[-292.5,89.75],[-300,89.75],[-307.5,89.75],[-315,89.75],[-322.5,89.75],[-330,89.75],[-337.5,89.75],[-345,89.75],[-352.5,89.75],[-360,89.75]]}}
]},"mark":{"type":"geoshape","filled":false,"stroke":"#53563f","strokeWidth":1.3,"strokeDash":[3,3]}},
{"data":{"values":[
{"label":"10 km/h","lon":-1,"lat":89.945},{"label":"20 km/h","lon":-1,"lat":89.895},{"label":"30 km/h","lon":-1,"lat":89.845},{"label":"40 km/h","lon":-1,"lat":89.795},{"label":"50 km/h","lon":-1,"lat":89.745}
]},"mark":{"type":"text","angle":143,"font":"Liberation Sans","fontSize":13,"color":"#2a2c22","align":"center","baseline":"middle"},"encoding":{"longitude":{"field":"lon","type":"quantitative"},"latitude":{"field":"lat","type":"quantitative"},"text":{"field":"label","type":"nominal"}}},
{"data":{"values":[
{"type":"Feature","properties":{"speed":10},"geometry":{"type":"LineString","coordinates":[[0,89.95],[-7.5,89.95],[-15,89.95],[-22.5,89.95],[-30,89.95],[-37.5,89.95],[-45,89.95],[-52.5,89.95],[-60,89.95],[-67.5,89.95],[-75,89.95],[-82.5,89.95],[-90,89.95],[-97.5,89.95],[-105,89.95],[-112.5,89.95],[-120,89.95],[-127.5,89.95],[-135,89.95],[-142.5,89.95],[-150,89.95],[-157.5,89.95],[-165,89.95],[-172.5,89.95],[-180,89.95],[-187.5,89.95],[-195,89.95],[-202.5,89.95],[-210,89.95],[-217.5,89.95],[-225,89.95],[-232.5,89.95],[-240,89.95],[-247.5,89.95],[-255,89.95],[-262.5,89.95],[-270,89.95],[-277.5,89.95],[-285,89.95],[-292.5,89.95],[-300,89.95],[-307.5,89.95],[-315,89.95],[-322.5,89.95],[-330,89.95],[-337.5,89.95],[-345,89.95],[-352.5,89.95],[-360,89.95]]}}
]},"mark":{"type":"geoshape","filled":false,"stroke":"#231F20","strokeWidth":2.5}},
{"data":{"values":[
{"type":"Feature","properties":{"name":"N"},"geometry":{"type":"Polygon","coordinates":[[[140.5,89.898],[136.4,89.9047],[142.6,89.9744],[125.4,89.9182],[120.2,89.9222],[164.4,89.994],[177,89.9858],[141.1,89.9184],[180.2,89.9632],[180.6,89.9551],[140.5,89.898]]]}},
{"type":"Feature","properties":{"name":"arrow"},"geometry":{"type":"Polygon","coordinates":[[[114,89.9905],[7.5,89.9419],[34.1,89.9454],[-0.3,89.8995],[26.7,89.9995],[114,89.9905]]]}}
]},"mark":{"type":"geoshape","fill":"#231F20","stroke":null}}
]}
